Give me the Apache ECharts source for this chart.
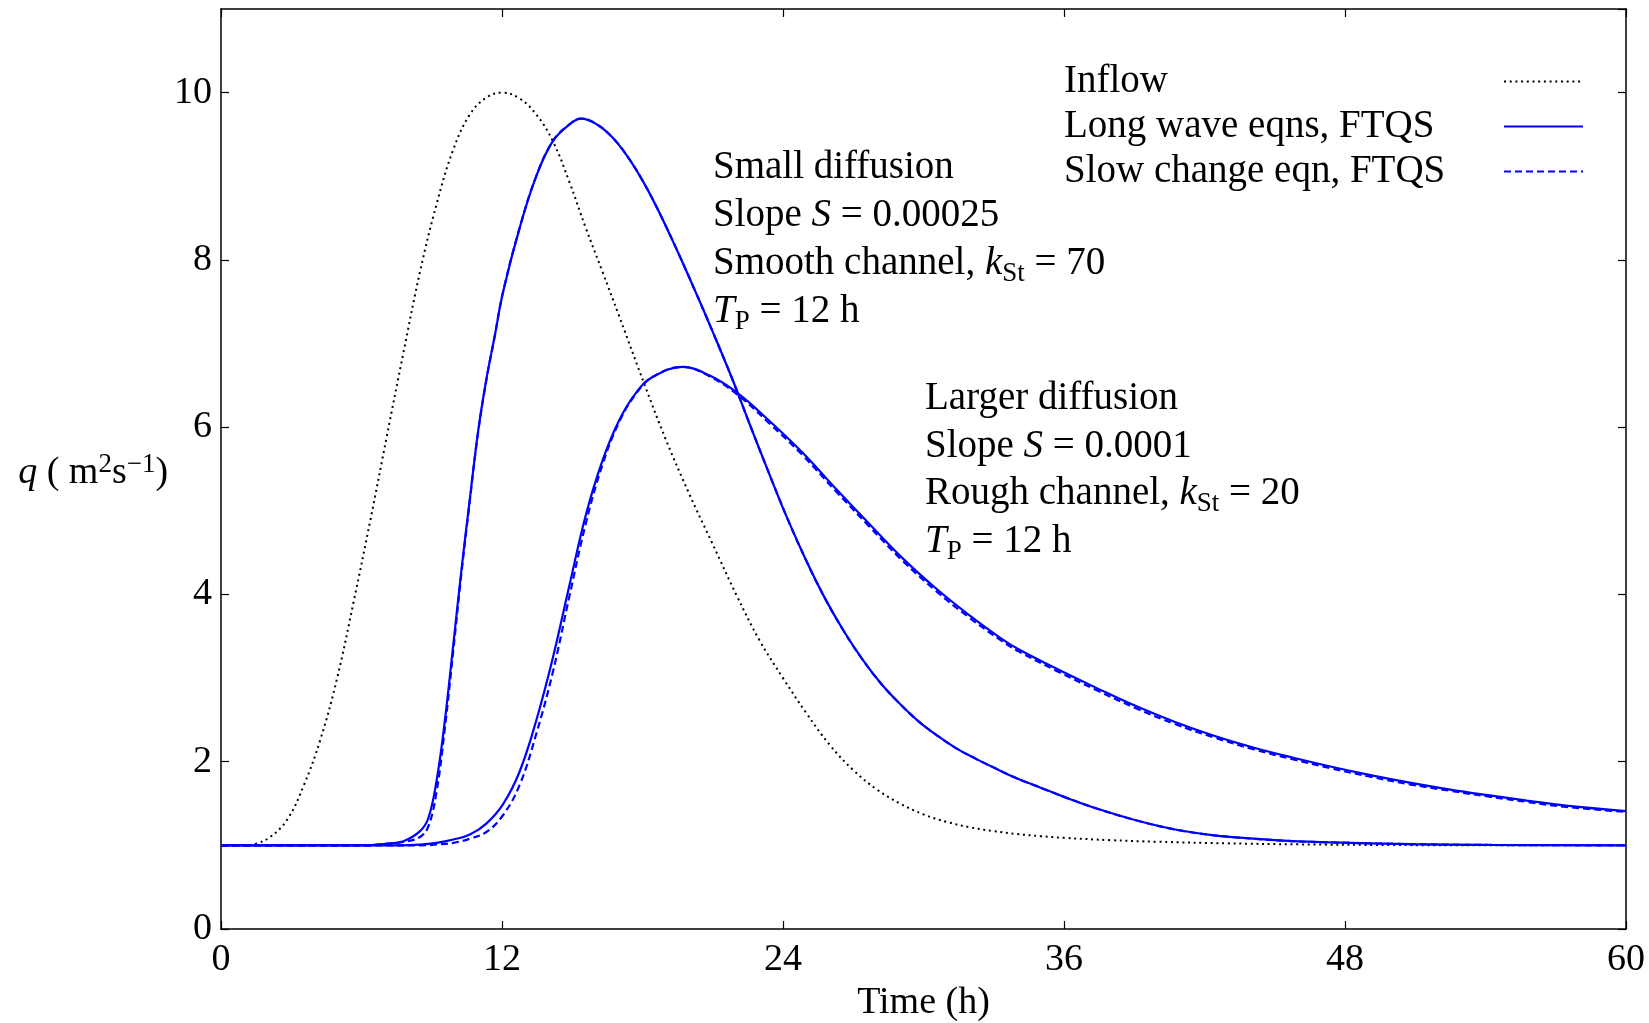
<!DOCTYPE html>
<html>
<head>
<meta charset="utf-8">
<script src="https://cdn.jsdelivr.net/npm/echarts@6/dist/echarts.min.js"></script>
<style>
html,body{margin:0;padding:0;background:#fff;}
#chart{width:1649px;height:1023px;}
</style>
</head>
<body>
<div id="chart"></div>
<script>
// ---- data ----
const xTickValues = [0, 12, 24, 36, 48, 60];
const yTickValues = [0, 2, 4, 6, 8, 10];

const tInflow = [0,1,1.5,2.1,2.83,3.54,4.25,4.96,5.67,6.38,7.08,7.79,8.5,9.21,9.92,10.63,11.33,12,12.75,13.46,14.17,14.88,15.58,16.29,17,18.1,19,20,21,22,23,24,25,26,27,28,29,30,31,32,33,34,35,36,38,40,43,46,50,55,60];
const qInflow = [1,1,1.02,1.1,1.31,1.72,2.27,3.0,3.92,4.89,5.89,6.89,7.86,8.67,9.32,9.74,9.94,10,9.93,9.74,9.42,8.93,8.38,7.86,7.33,6.5,5.85,5.2,4.6,4.0,3.45,3.0,2.58,2.2,1.9,1.67,1.5,1.37,1.28,1.215,1.17,1.135,1.11,1.09,1.062,1.043,1.024,1.012,1.004,1.0,1.0];

const tSmall = [0,6,7.08,7.79,8.5,8.86,9.21,9.56,9.92,10.27,10.63,10.98,11.33,11.69,12.04,12.75,13.46,14.17,14.88,15.37,16.0,16.7,17.4,18.1,18.8,19.5,20.2,21.0,21.8,22.6,23.4,24.2,25.0,25.8,26.6,27.4,28.2,29.0,29.8,30.6,31.4,32.2,33.0,34.0,35.0,36.0,37.4,39.07,40.74,42.41,44.08,45.75,47.42,50.76,54.1,60];
const qSmallLongWave = [1,1,1.02,1.05,1.17,1.33,1.78,2.49,3.40,4.30,5.15,5.95,6.57,7.09,7.61,8.38,9.0,9.42,9.62,9.69,9.63,9.47,9.22,8.90,8.52,8.10,7.66,7.14,6.60,6.02,5.45,4.90,4.40,3.95,3.56,3.22,2.93,2.69,2.48,2.31,2.16,2.04,1.93,1.80,1.69,1.58,1.44,1.30,1.19,1.12,1.08,1.05,1.035,1.015,1.005,1.0];
const qSmallSlowChange = [1,1,1.02,1.04,1.10,1.23,1.65,2.40,3.33,4.26,5.13,5.94,6.56,7.09,7.61,8.38,9.0,9.42,9.62,9.69,9.63,9.47,9.22,8.90,8.52,8.10,7.66,7.14,6.60,6.02,5.45,4.90,4.40,3.95,3.56,3.22,2.93,2.69,2.48,2.31,2.16,2.04,1.93,1.80,1.69,1.58,1.44,1.30,1.19,1.12,1.08,1.05,1.035,1.015,1.005,1.0];

const tLarge = [0,7,8.5,9.21,9.92,10.63,11.33,12.04,12.75,13.46,14.17,14.88,15.58,16.29,17,17.72,18.43,19.71,20.85,22.05,23.4,24.82,26.24,27.66,29.08,30.5,31.92,33.34,34.06,35.73,37.4,39.07,40.74,42.41,44.08,45.75,47.42,49.09,50.76,52.43,54.1,55.77,57.44,60];
const qLargeLongWave = [1,1,1.01,1.03,1.07,1.13,1.26,1.49,1.88,2.49,3.24,4.11,4.95,5.60,6.08,6.41,6.60,6.72,6.62,6.41,6.08,5.70,5.27,4.85,4.44,4.08,3.76,3.47,3.345,3.105,2.88,2.665,2.475,2.31,2.17,2.05,1.94,1.84,1.75,1.67,1.60,1.535,1.475,1.41];
const qLargeSlowChange = [1,1,1.0,1.01,1.03,1.08,1.16,1.36,1.72,2.33,3.07,3.98,4.85,5.55,6.06,6.40,6.60,6.72,6.61,6.39,6.05,5.67,5.24,4.82,4.41,4.05,3.73,3.445,3.32,3.08,2.855,2.64,2.45,2.29,2.15,2.03,1.92,1.82,1.73,1.655,1.585,1.52,1.46,1.40];

const legendNames = ['Inflow', 'Long wave eqns, FTQS', 'Slow change eqn, FTQS'];
const xName = 'Time (h)';
const yNameRich = '{i|q}{n| ( m}{sup|2}{n|s}{sup|\u22121}{n|)}';
const note1 = '{n|Small diffusion}\n{n|Slope }{i|S}{n| = 0.00025}\n{n|Smooth channel, }{i|k}{s|St}{n| = 70}\n{i|T}{s|P}{n| = 12 h}';
const note2 = '{n|Larger diffusion}\n{n|Slope }{i|S}{n| = 0.0001}\n{n|Rough channel, }{i|k}{s|St}{n| = 20}\n{i|T}{s|P}{n| = 12 h}';

// ---- chart ----
const FONT = '"Liberation Serif", "DejaVu Serif", serif';
const FS = 38;
const FT = 39;
const zip = (t, q) => t.map((v, i) => [v, q[i]]);

const chart = echarts.init(document.getElementById('chart'), null, {renderer: 'canvas'});

const axisCommon = {
  axisLine: {show: true, onZero: false, lineStyle: {color: '#000', width: 1.5}},
  axisTick: {show: true, inside: true, length: 8, lineStyle: {color: '#000', width: 1.2}},
  splitLine: {show: false}
};

function noteRich(lh) {
  return {
    n: {fontFamily: FONT, fontSize: FT, color: '#000', lineHeight: lh},
    i: {fontFamily: FONT, fontSize: FT, fontStyle: 'italic', color: '#000', lineHeight: lh},
    s: {fontFamily: FONT, fontSize: 27, color: '#000', lineHeight: 31, verticalAlign: 'bottom'}
  };
}

const SMOOTH = 0.4;

const option = {
  animation: false,
  backgroundColor: '#fff',
  grid: {left: 221, right: 23, top: 9, bottom: 94, containLabel: false, outerBoundsMode: 'none'},
  xAxis: [
    Object.assign({}, axisCommon, {
      type: 'value', min: 0, max: 60, interval: 12, position: 'bottom',
      name: xName, nameLocation: 'middle', nameGap: 73,
      nameTextStyle: {fontFamily: FONT, fontSize: FS, color: '#000', verticalAlign: 'middle'},
      axisLabel: {show: true, margin: 12, fontFamily: FONT, fontSize: FS, color: '#000',
        formatter: v => xTickValues.indexOf(v) >= 0 ? String(v) : ''}
    }),
    Object.assign({}, axisCommon, {
      type: 'value', min: 0, max: 60, interval: 12, position: 'top',
      axisLabel: {show: false}
    })
  ],
  yAxis: [
    Object.assign({}, axisCommon, {
      type: 'value', min: 0, max: 11, interval: 2, position: 'left',
      name: yNameRich, nameLocation: 'middle', nameRotate: 0, nameGap: 37,
      nameTextStyle: {
        fontFamily: FONT, fontSize: FS, color: '#000', align: 'right', verticalAlign: 'middle',
        padding: [8, 0, 0, 0],
        rich: {
          n: {fontFamily: FONT, fontSize: FS, color: '#000', lineHeight: 44},
          i: {fontFamily: FONT, fontSize: FS, fontStyle: 'italic', color: '#000', lineHeight: 44},
          sup: {fontFamily: FONT, fontSize: 27, color: '#000', lineHeight: 36, verticalAlign: 'top'}
        }
      },
      axisLabel: {show: true, margin: 9, fontFamily: FONT, fontSize: FS, color: '#000', showMaxLabel: false,
        padding: [4, 0, 0, 0],
        formatter: v => yTickValues.indexOf(v) >= 0 ? String(v) : ''}
    }),
    Object.assign({}, axisCommon, {
      type: 'value', min: 0, max: 11, interval: 2, position: 'right',
      axisLabel: {show: false}
    })
  ],
  legend: {
    show: true, orient: 'vertical', left: 1064, top: 62, padding: 0,
    align: 'right', itemWidth: 79, itemHeight: 14, itemGap: 6,
    data: legendNames,
    formatter: name => '{a|' + name + '}',
    itemStyle: {color: 'rgba(0,0,0,0)', borderColor: 'rgba(0,0,0,0)', borderWidth: 0, opacity: 0},
    textStyle: {
      fontFamily: FONT, fontSize: FT, color: '#000',
      rich: {a: {fontFamily: FONT, fontSize: FT, color: '#000', width: 435, align: 'left'}}
    },
    selectedMode: false
  },
  graphic: [
    {type: 'text', x: 713, y: 144, silent: true,
     style: {text: note1, rich: noteRich(47.8), fontFamily: FONT, fontSize: FT, fill: '#000', align: 'left', verticalAlign: 'top'}},
    {type: 'text', x: 925, y: 375, silent: true,
     style: {text: note2, rich: noteRich(47.6), fontFamily: FONT, fontSize: FT, fill: '#000', align: 'left', verticalAlign: 'top'}}
  ],
  series: [
    {name: legendNames[0], type: 'line', xAxisIndex: 0, yAxisIndex: 0, data: zip(tInflow, qInflow),
     symbol: 'none', smooth: SMOOTH, z: 3,
     itemStyle: {color: '#000'},
     lineStyle: {color: '#000', width: 2, type: [2, 3.7], cap: 'butt'}},
    {name: legendNames[1], type: 'line', data: zip(tSmall, qSmallLongWave),
     symbol: 'none', smooth: SMOOTH, z: 4,
     itemStyle: {color: '#0000ff'},
     lineStyle: {color: '#0000ff', width: 2.2, type: 'solid'}},
    {name: legendNames[2], type: 'line', data: zip(tSmall, qSmallSlowChange),
     symbol: 'none', smooth: SMOOTH, z: 5,
     itemStyle: {color: '#0000ff'},
     lineStyle: {color: '#0000ff', width: 2.2, type: [7, 4]}},
    {name: legendNames[1], type: 'line', data: zip(tLarge, qLargeLongWave),
     symbol: 'none', smooth: SMOOTH, z: 4,
     itemStyle: {color: '#0000ff'},
     lineStyle: {color: '#0000ff', width: 2.2, type: 'solid'}},
    {name: legendNames[2], type: 'line', data: zip(tLarge, qLargeSlowChange),
     symbol: 'none', smooth: SMOOTH, z: 5,
     itemStyle: {color: '#0000ff'},
     lineStyle: {color: '#0000ff', width: 2.2, type: [7, 4]}}
  ]
};

chart.setOption(option);
</script>
</body>
</html>
